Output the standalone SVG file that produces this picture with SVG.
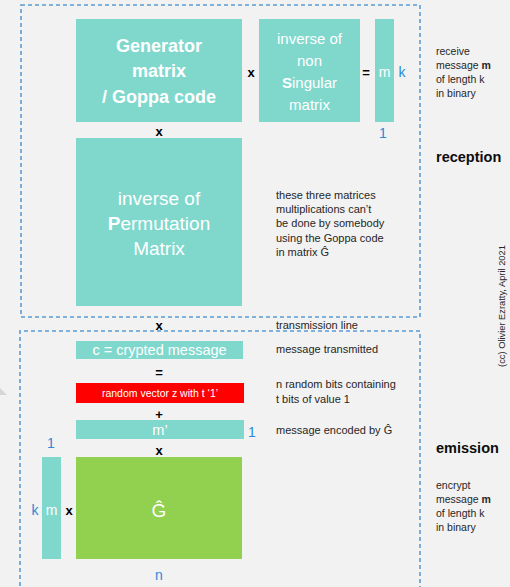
<svg xmlns="http://www.w3.org/2000/svg" width="510" height="587" viewBox="0 0 510 587">
<style>
text{font-family:"Liberation Sans",Arial,sans-serif}
.teal{fill:#80d8cd}
.box{fill:none;stroke:#5b9bd5;stroke-width:1.6;stroke-dasharray:4,3}
.w{fill:#fff;text-anchor:middle}
.op{font-weight:bold;font-size:13px;fill:#000;text-anchor:middle}
.dim{fill:#2b8ad6;font-size:14px;text-anchor:middle}
.note{font-size:11px;fill:#262626}
.side{font-size:10.5px;fill:#262626}
.title{font-size:14.5px;font-weight:bold;fill:#0d0d0d}
</style>
<rect width="510" height="587" fill="#f2f2f2"/>
<polygon points="0,388 7,395 0,395" fill="#d6d6d6"/>
<g id="frames">
<rect class="box" x="21" y="5" width="399" height="312"/>
<path class="box" d="M20,600 V331 H420 V600"/>
</g>
<g id="generator">
<rect class="teal" x="76" y="19" width="166" height="103"/>
<text class="w" x="159" y="52" font-size="18" font-weight="bold">Generator</text>
<text class="w" x="159" y="77" font-size="18" font-weight="bold">matrix</text>
<text class="w" x="159" y="103" font-size="18" font-weight="bold">/ Goppa code</text>
</g>
<g id="nonsingular">
<rect class="teal" x="259" y="19" width="101" height="103"/>
<text class="w" x="309.5" y="44" font-size="15">inverse of</text>
<text class="w" x="309.5" y="66" font-size="15">non</text>
<text class="w" x="309.5" y="88" font-size="15"><tspan font-weight="bold">S</tspan>ingular</text>
<text class="w" x="309.5" y="110" font-size="15">matrix</text>
</g>
<g id="mvec-top">
<rect class="teal" x="375" y="19" width="19" height="103"/>
<text class="w" x="384.5" y="77" font-size="14">m</text>
<text class="dim" x="402" y="77">k</text>
<text class="dim" x="383" y="138">1</text>
</g>
<g id="permutation">
<rect class="teal" x="76" y="138" width="166" height="168"/>
<text class="w" x="159" y="205" font-size="19">inverse of</text>
<text class="w" x="159" y="230" font-size="19"><tspan font-weight="bold">P</tspan>ermutation</text>
<text class="w" x="159" y="255" font-size="19">Matrix</text>
</g>
<g id="crypted">
<rect class="teal" x="76" y="341" width="167" height="18"/>
<text class="w" x="159.5" y="355" font-size="14.5">c = crypted message</text>
</g>
<g id="random">
<rect x="76" y="383" width="168" height="20" fill="#ff0000"/>
<text class="w" x="160" y="397" font-size="10.5">random vector z with t ‘1’</text>
</g>
<g id="mprime">
<rect class="teal" x="76" y="420" width="168" height="19"/>
<text class="w" x="160" y="435" font-size="14.5">m’</text>
<text class="dim" x="252" y="437">1</text>
</g>
<g id="mvec-bottom">
<rect class="teal" x="42" y="457" width="19" height="102"/>
<text class="w" x="51.5" y="515" font-size="14">m</text>
<text class="dim" x="35" y="515">k</text>
<text class="dim" x="51" y="448">1</text>
</g>
<g id="ghat">
<rect x="76" y="457" width="166" height="102" fill="#92d050"/>
<text class="w" x="159" y="517" font-size="19">Ĝ</text>
<text class="dim" x="159" y="580">n</text>
</g>
<g id="connectors">
<text class="op" x="251" y="77">x</text>
<text class="op" x="366" y="77">=</text>
<text class="op" x="159" y="136">x</text>
<text class="op" x="159" y="330">x</text>
<text class="op" x="159" y="377">=</text>
<text class="op" x="159" y="419">+</text>
<text class="op" x="159" y="455">x</text>
<text class="op" x="69" y="515">x</text>
</g>
<g id="notes">
<text class="note" x="276" y="199">these three matrices</text>
<text class="note" x="276" y="213">multiplications can’t</text>
<text class="note" x="276" y="227">be done by somebody</text>
<text class="note" x="276" y="242">using the Goppa code</text>
<text class="note" x="276" y="256">in matrix Ĝ</text>
<text class="note" x="276" y="329">transmission line</text>
<text class="note" x="276" y="353">message transmitted</text>
<text class="note" x="276" y="388">n random bits containing</text>
<text class="note" x="276" y="403">t bits of value 1</text>
<text class="note" x="276" y="434">message encoded by Ĝ</text>
</g>
<g id="side">
<text class="side" x="436" y="55">receive</text>
<text class="side" x="436" y="69">message <tspan font-weight="bold">m</tspan></text>
<text class="side" x="436" y="83">of length k</text>
<text class="side" x="436" y="97">in binary</text>
<text class="title" x="436" y="162">reception</text>
<text class="title" x="436" y="453">emission</text>
<text class="side" x="436" y="489">encrypt</text>
<text class="side" x="436" y="503">message <tspan font-weight="bold">m</tspan></text>
<text class="side" x="436" y="517">of length k</text>
<text class="side" x="436" y="531">in binary</text>
<text x="505" y="306" font-size="9.3" fill="#262626" text-anchor="middle" transform="rotate(-90 505 306)">(cc) Olivier Ezratty, April 2021</text>
</g>
</svg>
